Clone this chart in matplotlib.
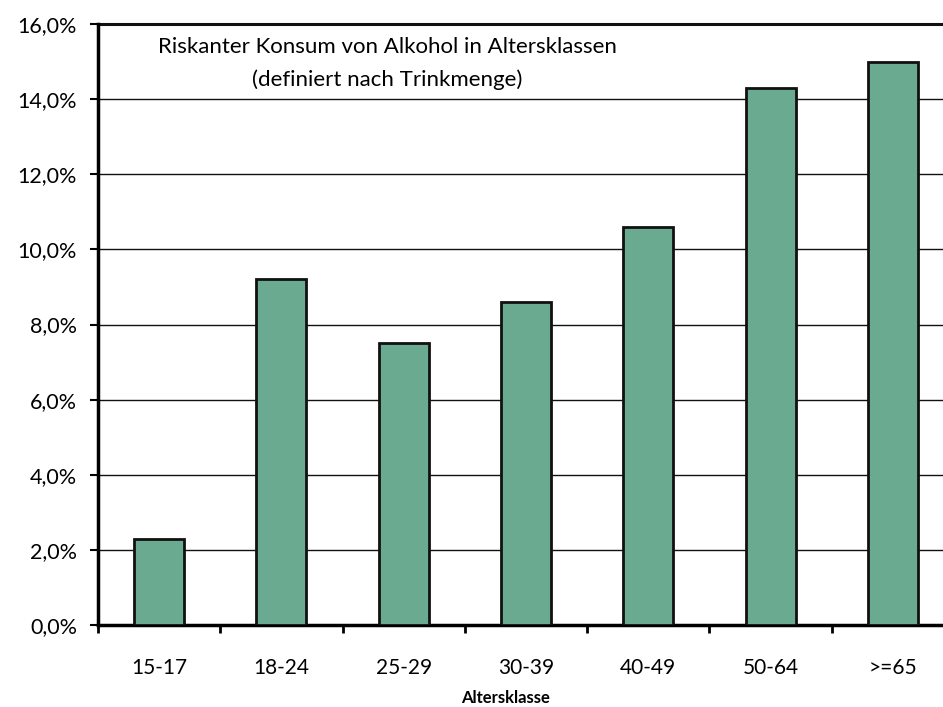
import matplotlib
matplotlib.use("Agg")
import matplotlib.pyplot as plt
from matplotlib.ticker import FuncFormatter, FixedLocator

categories = ["15-17", "18-24", "25-29", "30-39", "40-49", "50-64", ">=65"]
values = [2.3, 9.2, 7.5, 8.6, 10.6, 14.3, 15.0]
yticks = [0, 2, 4, 6, 8, 10, 12, 14, 16]
title_lines = ["Riskanter Konsum von Alkohol in Altersklassen", "(definiert nach Trinkmenge)"]
xlabel = "Altersklasse"

plt.rcParams['font.family'] = ['Lato', 'DejaVu Sans']

fig = plt.figure(figsize=(9.43, 7.07), dpi=100)
W, H = 943, 707
left, right, top, bottom = 98, 954, 24, 625
ax = fig.add_axes([left / W, (H - bottom) / H, (right - left) / W, (bottom - top) / H])

x = list(range(len(categories)))
ax.bar(x, values, width=0.41, color="#6aaa90", edgecolor="#111111", linewidth=2, zorder=3)

ax.set_xlim(-0.5, len(categories) - 0.5)
ax.set_ylim(0, 16)
ax.set_yticks(yticks)
ax.yaxis.set_major_formatter(FuncFormatter(lambda v, p: f"{v:.1f}%".replace(".", ",")))
ax.yaxis.grid(True, color="#111111", linewidth=1.0, zorder=0)
ax.set_axisbelow(True)

ax.set_xticks(x)
ax.set_xticklabels(categories)
ax.tick_params(axis="x", which="major", length=0, pad=24, labelsize=15)
ax.xaxis.set_minor_locator(FixedLocator([i - 0.5 for i in range(len(categories) + 1)]))
ax.tick_params(axis="x", which="minor", length=5.5, width=2, direction="out")
ax.tick_params(axis="y", length=6, width=1.5, direction="out", labelsize=15.5, pad=9)

for s in ["top", "right"]:
    ax.spines[s].set_visible(False)
ax.spines["left"].set_linewidth(2.5)
ax.spines["bottom"].set_linewidth(2.5)
ax.axhline(16, color="#111111", linewidth=2.2, zorder=2, clip_on=False)

fig.text(387 / W, 1 - 47 / H, title_lines[0], ha="center", va="center", fontsize=16)
fig.text(387 / W, 1 - 80 / H, title_lines[1], ha="center", va="center", fontsize=16)
fig.text(506 / W, 1 - 698 / H, xlabel, ha="center", va="center", fontsize=12, fontweight="bold")

fig.savefig("out.png", dpi=100)
